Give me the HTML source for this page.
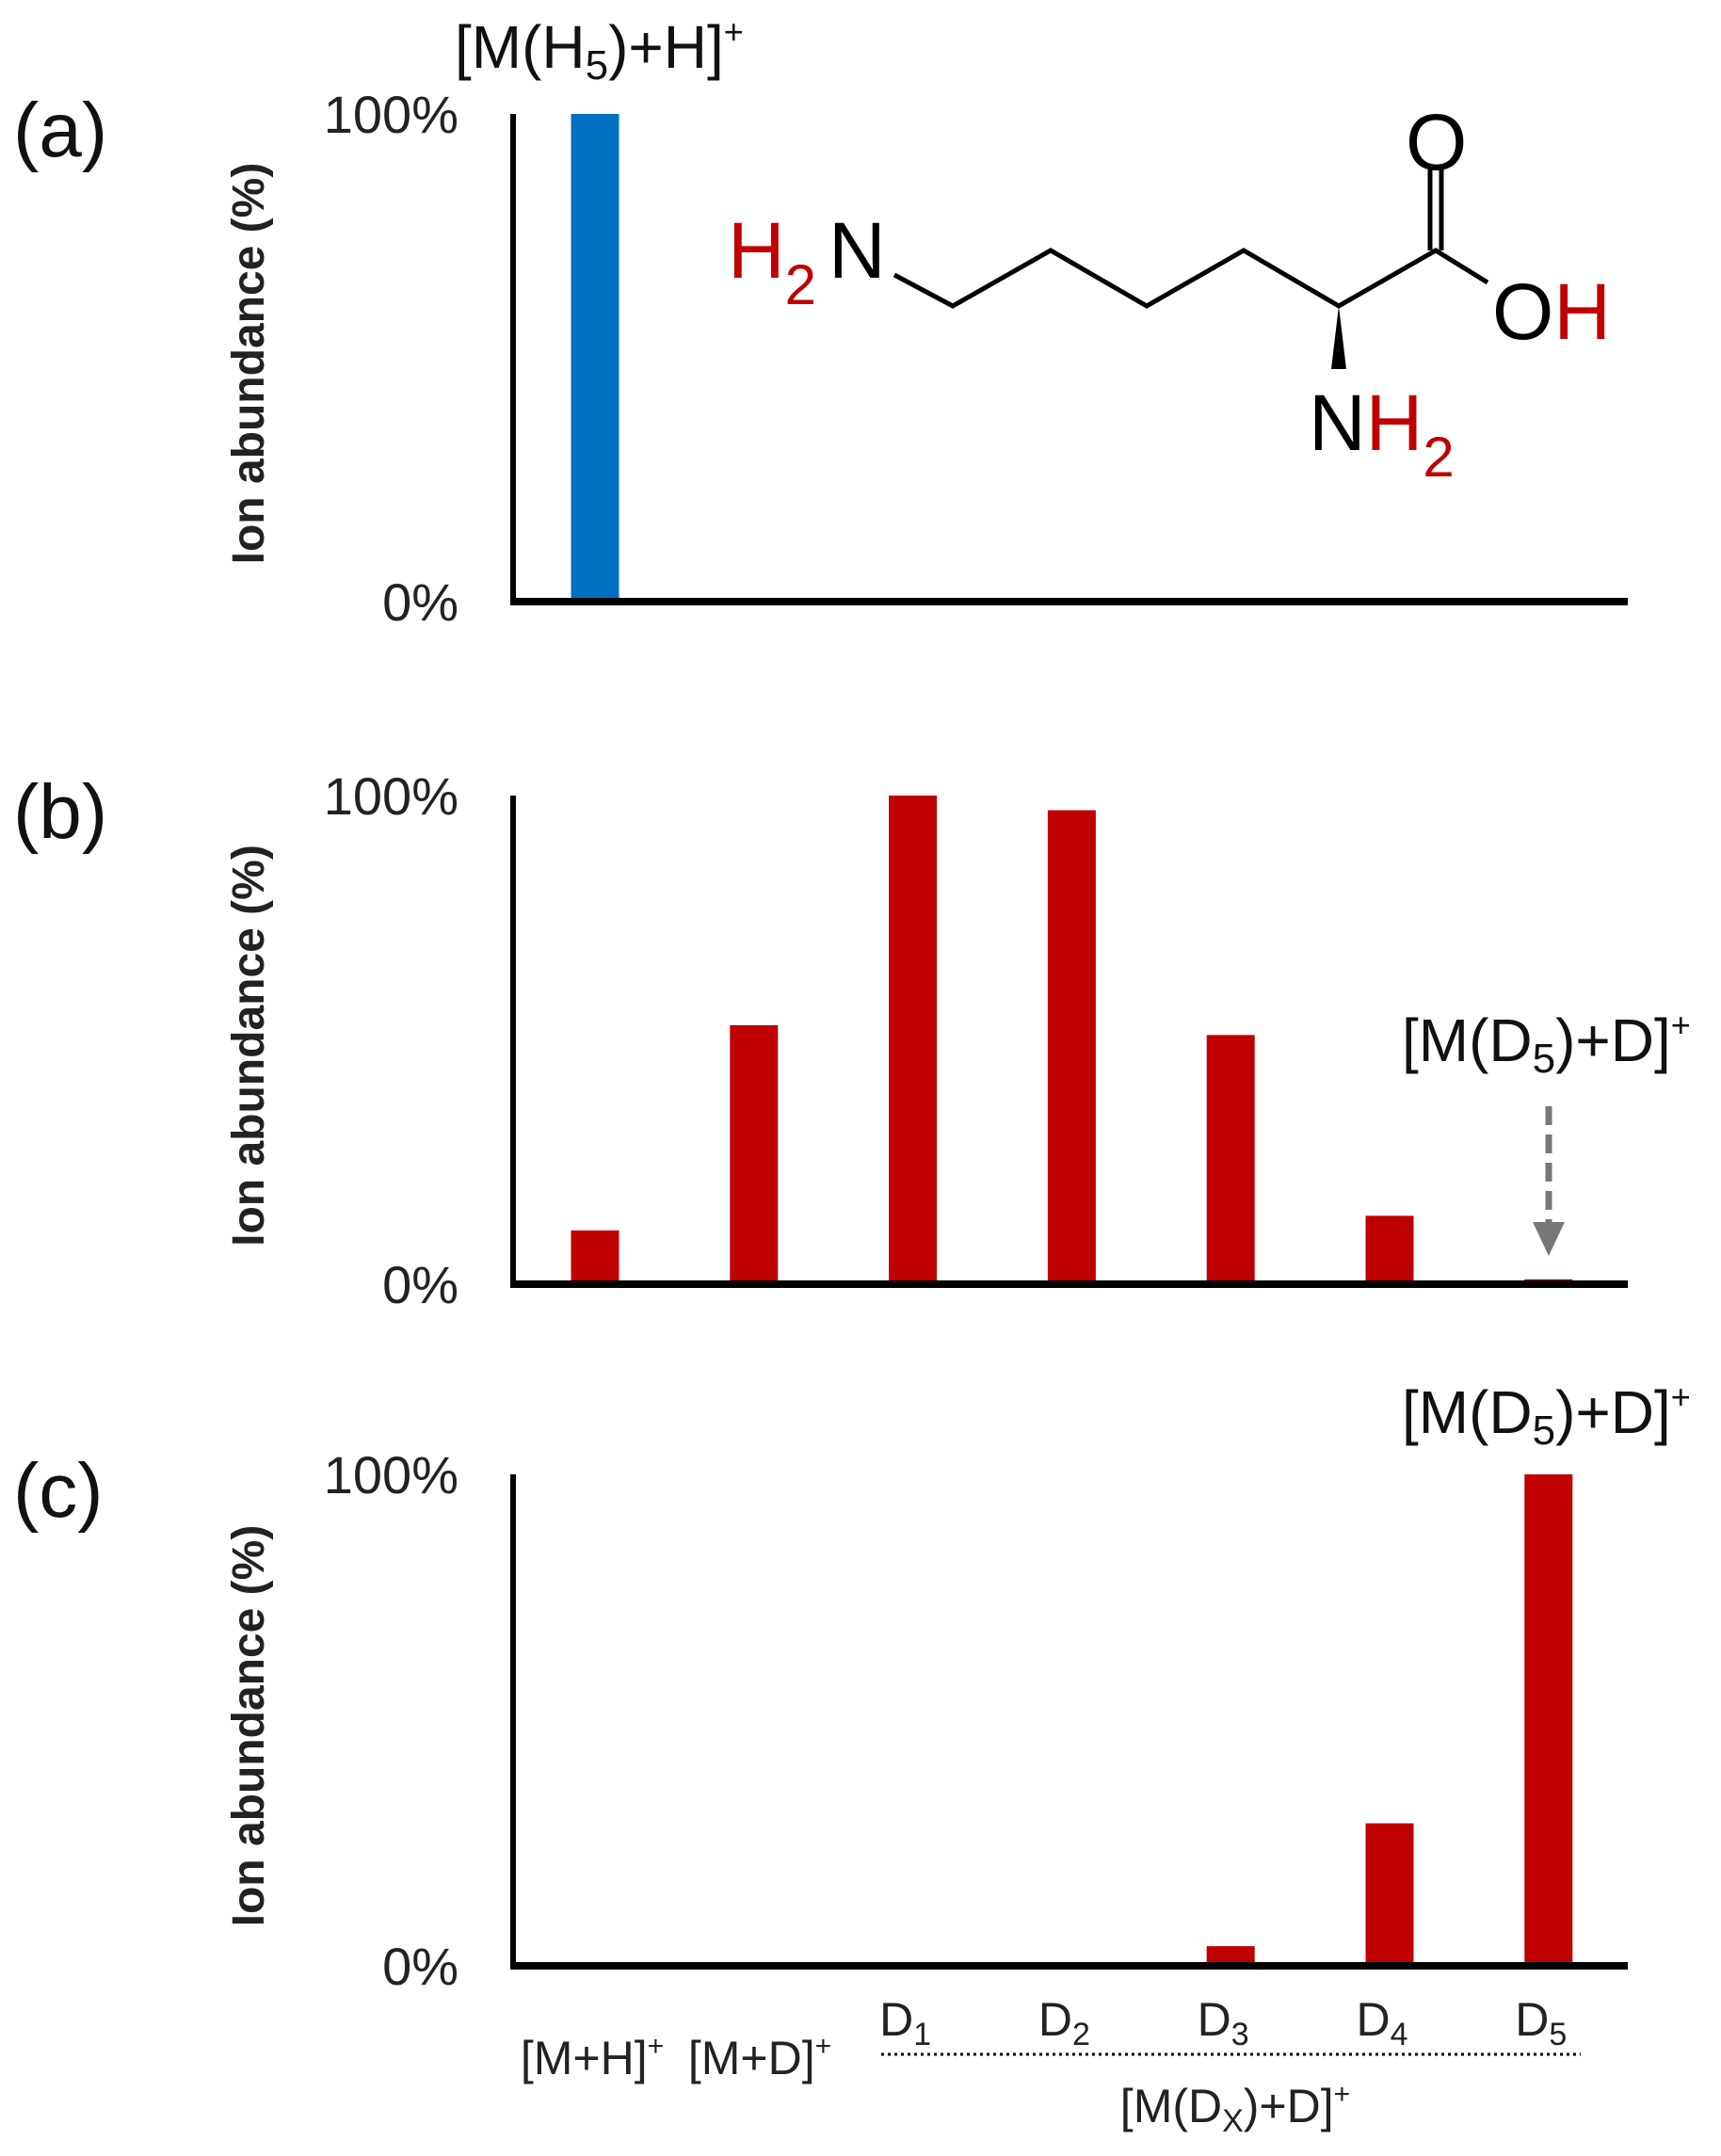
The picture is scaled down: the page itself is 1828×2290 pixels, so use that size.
<!DOCTYPE html>
<html><head><meta charset="utf-8">
<style>
html,body{margin:0;padding:0;background:#fff;}
svg{display:block;}
text{font-family:"Liberation Sans",sans-serif;}
</style></head>
<body>
<svg id="fig" width="1828" height="2290" viewBox="0 0 1828 2290" xmlns="http://www.w3.org/2000/svg">
<g>
<text x="483" y="72" font-size="64" fill="#111">[M(H<tspan font-size="44" dy="12">5</tspan><tspan dy="-12">)+H]</tspan><tspan font-size="36" dy="-26">+</tspan></text>
<g stroke="#000" stroke-width="5" fill="none">
<polyline points="950,292 1012,325 1116,266 1218,325 1321,266 1422,325 1525,266 1580,300"/>
<line x1="1519" y1="266" x2="1519" y2="180"/>
<line x1="1531" y1="266" x2="1531" y2="180"/>
<polygon points="1422,325 1414,392 1430,392" fill="#000" stroke="none"/>
</g>
<text x="773" y="295" font-size="84" fill="#c00000">H<tspan font-size="60" dy="28">2</tspan></text>
<text x="880" y="295" font-size="84" fill="#000">N</text>
<text x="1493" y="180" font-size="84" fill="#000">O</text>
<text x="1585" y="360" font-size="84" fill="#000">O<tspan fill="#c00000">H</tspan></text>
<text x="1390" y="478" font-size="84" fill="#000">N<tspan fill="#c00000">H</tspan><tspan fill="#c00000" font-size="60" dy="28">2</tspan></text>
</g>
<g>
<text x="1489" y="1127" font-size="64" fill="#111">[M(D<tspan font-size="44" dy="12">5</tspan><tspan dy="-12">)+D]</tspan><tspan font-size="36" dy="-26">+</tspan></text>
<line x1="1645" y1="1175" x2="1645" y2="1300" stroke="#777" stroke-width="7" stroke-dasharray="20,10"/>
<polygon points="1628,1298 1662,1298 1645,1334" fill="#777"/>
</g>
<text x="1489" y="1522" font-size="64" fill="#111">[M(D<tspan font-size="44" dy="12">5</tspan><tspan dy="-12">)+D]</tspan><tspan font-size="36" dy="-26">+</tspan></text>
<g>
<text x="629" y="2203" font-size="50" text-anchor="middle" fill="#222">[M+H]<tspan font-size="30" dy="-20">+</tspan></text>
<text x="807" y="2203" font-size="50" text-anchor="middle" fill="#222">[M+D]<tspan font-size="30" dy="-20">+</tspan></text>
<line x1="936" y1="2182" x2="1679" y2="2182" stroke="#000" stroke-width="3" stroke-dasharray="3,4"/>
<text x="1312" y="2254" font-size="50" text-anchor="middle" fill="#222">[M(D<tspan font-size="34" dy="10">X</tspan><tspan dy="-10">)+D]</tspan><tspan font-size="30" dy="-20">+</tspan></text>
</g>
</svg>
<script>
const categories = ["[M+H]+","[M+D]+","D1","D2","D3","D4","D5"];
const dLabels = ["D1","D2","D3","D4","D5"];
const valuesA = [1.0,0,0,0,0,0,0];
const valuesB = [0.11,0.53,1.0,0.97,0.51,0.14,0.01];
const valuesC = [0,0,0,0,0.04,0.29,1.0];
const yTickLabels = ["0%","100%"];
const panelLetters = ["(a)","(b)","(c)"];

const svg = document.getElementById('fig');
const NS = "http://www.w3.org/2000/svg";
const axLeft = 545, axRight = 1729;
const x0 = 632, step = 168.8, barW = 51;
function xScale(i){ return x0 + i*step; }
const panels = [
  {top:121, base:639, vals:valuesA, color:"#0070c0", letter:panelLetters[0]},
  {top:845, base:1364, vals:valuesB, color:"#c00000", letter:panelLetters[1]},
  {top:1566, base:2088, vals:valuesC, color:"#c00000", letter:panelLetters[2]}
];
function mk(tag, attrs, text){
  const e = document.createElementNS(NS, tag);
  for (const k in attrs) e.setAttribute(k, attrs[k]);
  if (text !== undefined) e.textContent = text;
  svg.appendChild(e);
  return e;
}
panels.forEach((p, pi) => {
  const yScale = v => p.base - v*(p.base - p.top);
  p.vals.forEach((v, i) => {
    if (v <= 0) return;
    const r = mk('rect', {x: xScale(i)-barW/2, y: yScale(v), width: barW, height: p.base - yScale(v), fill: p.color});
    
    
  });
  const ya = mk('line', {x1: axLeft, y1: p.top, x2: axLeft, y2: p.base+4, stroke: '#000', 'stroke-width': 6});
  
  
  const xa = mk('line', {x1: axLeft-3, y1: p.base, x2: axRight, y2: p.base, stroke: '#000', 'stroke-width': 8});
  
  
  [0,1].forEach(t => {
    const tl = mk('text', {x: 487, y: yScale(t)+20, 'font-size': 56, 'text-anchor': 'end', fill: '#222'}, yTickLabels[t]);
    
    
  });
  const mid = (p.top + p.base)/2;
  const yt = mk('text', {x: 0, y: 0, 'font-size': 48, 'font-weight': 'bold', 'text-anchor': 'middle', fill: '#222', transform: 'translate(280,' + (mid+6) + ') rotate(-90)'}, 'Ion abundance (%)');
  
  
  const lt = mk('text', {x: 14, y: p.top+45, 'font-size': 82, fill: '#111'}, p.letter);
  
  
});
dLabels.forEach((d, j) => {
  const t = mk('text', {x: xScale(j+2)-8, y: 2162, 'font-size': 50, 'text-anchor': 'middle', fill: '#222'});
  
  
  const a = document.createElementNS(NS, 'tspan'); a.textContent = d[0]; t.appendChild(a);
  const b = document.createElementNS(NS, 'tspan'); b.setAttribute('font-size', 34); b.setAttribute('dy', 10); b.textContent = d.slice(1); t.appendChild(b);
});
</script>
</body></html>
